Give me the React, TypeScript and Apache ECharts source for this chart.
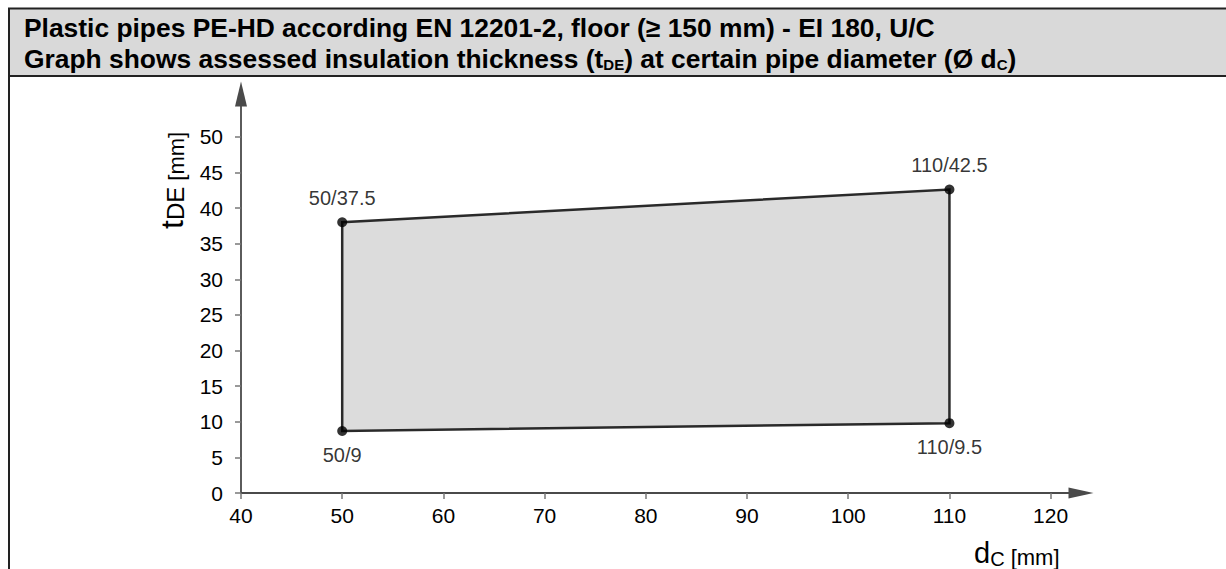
import React, { useEffect, useRef } from "react";
import * as echarts from "echarts";

// ---- data ----
const titleLine1 = "Plastic pipes PE-HD according EN 12201-2, floor (≥ 150 mm) - EI 180, U/C";
const titleLine2Parts = ["Graph shows assessed insulation thickness (t", "DE", ") at certain pipe diameter (Ø d", "C", ")"];
const xTicks = [40, 50, 60, 70, 80, 90, 100, 110, 120];
const yTicks = [0, 5, 10, 15, 20, 25, 30, 35, 40, 45, 50];
const xRange = [40, 123];
const yRange = [0, 56];
// polygon vertices (pipe diameter, insulation thickness) as drawn
const pointX = [50, 50, 110, 110];
const pointY = [8.7, 38, 42.6, 9.8];
const pointLabels = ["50/9", "50/37.5", "110/42.5", "110/9.5"];
const lowerEdge = [true, false, false, true];

const FONT = "'Liberation Sans', Arial, Helvetica, sans-serif";

export default function App() {
  const ref = useRef<HTMLDivElement>(null);
  useEffect(() => {
    if (!ref.current) return;
    const chart = echarts.init(ref.current, undefined, { renderer: "svg" });
    const verts = pointX.map((x, i) => [x, pointY[i]]);
    const option: any = {
      animation: false,
      backgroundColor: "#ffffff",
      grid: { left: 241, top: 94, width: 840, height: 399, containLabel: false },
      xAxis: {
        type: "value",
        min: xRange[0],
        max: xRange[1],
        axisLine: {
          show: true,
          symbol: ["none", "triangle"],
          symbolSize: [11, 25],
          lineStyle: { color: "#4a4a4a", width: 1.8 },
        },
        axisTick: { show: true, length: 6, customValues: xTicks, lineStyle: { color: "#777", width: 1.5 } },
        axisLabel: {
          customValues: xTicks,
          margin: 12,
          fontSize: 21,
          color: "#000",
          fontFamily: FONT,
        },
        splitLine: { show: false },
      },
      yAxis: {
        type: "value",
        min: yRange[0],
        max: yRange[1],
        axisLine: {
          show: true,
          symbol: ["none", "triangle"],
          symbolSize: [12, 25],
          lineStyle: { color: "#4a4a4a", width: 1.8 },
        },
        axisTick: { show: true, length: 6, customValues: yTicks, lineStyle: { color: "#777", width: 1.5 } },
        axisLabel: {
          customValues: yTicks,
          margin: 18,
          fontSize: 21,
          color: "#000",
          fontFamily: FONT,
        },
        splitLine: { show: false },
      },
      series: [
        {
          type: "custom",
          clip: false,
          z: 2,
          data: verts,
          renderItem: (params: any, api: any) => {
            if (params.dataIndex !== 0) return null;
            const pts = verts.map((v) => api.coord(v));
            return {
              type: "polygon",
              shape: { points: pts },
              style: { fill: "#dcdcdc", stroke: "#2a2a2a", lineWidth: 2.5 },
            };
          },
        },
        {
          type: "scatter",
          z: 3,
          symbol: "circle",
          symbolSize: 10,
          itemStyle: { color: "#000" },
          data: verts.map((v, i) => ({
            value: v,
            label: {
              show: true,
              formatter: pointLabels[i],
              position: lowerEdge[i] ? "bottom" : "top",
              distance: lowerEdge[i] ? 9 : 9,
              fontSize: 20,
              color: "#000",
              fontFamily: FONT,
            },
          })),
        },
      ],
      graphic: [
        {
          type: "rect",
          shape: { x: 9, y: 9, width: 1217, height: 67 },
          style: { fill: "#d9d9d9" },
          z: 0,
        },
        { type: "line", shape: { x1: 8, y1: 8.5, x2: 1226, y2: 8.5 }, style: { stroke: "#222", lineWidth: 2 } },
        { type: "line", shape: { x1: 8, y1: 76, x2: 1226, y2: 76 }, style: { stroke: "#222", lineWidth: 2 } },
        { type: "line", shape: { x1: 9, y1: 8, x2: 9, y2: 569 }, style: { stroke: "#222", lineWidth: 2 } },
        {
          type: "text",
          x: 24,
          y: 28,
          style: {
            text: titleLine1,
            fontSize: 26.4,
            fontWeight: "bold",
            fontFamily: FONT,
            fill: "#000",
            verticalAlign: "middle",
            align: "left",
          },
        },
        {
          type: "text",
          x: 24,
          y: 57,
          style: {
            text:
              "{b|" + titleLine2Parts[0] + "}{s|" + titleLine2Parts[1] + "}{b|" + titleLine2Parts[2] + "}{s|" +
              titleLine2Parts[3] + "}{b|" + titleLine2Parts[4] + "}",
            fontFamily: FONT,
            verticalAlign: "middle",
            align: "left",
            rich: {
              b: { fontSize: 26.4, fontWeight: "bold", fontFamily: FONT, fill: "#000", verticalAlign: "bottom", lineHeight: 30 },
              s: { fontSize: 15, fontWeight: "bold", fontFamily: FONT, fill: "#000", verticalAlign: "bottom", lineHeight: 30 },
            },
          },
        },
        {
          type: "text",
          x: 188,
          y: 229,
          rotation: Math.PI / 2,
          style: {
            text: "{t|t}{s|DE}{u| [mm]}",
            fontFamily: FONT,
            verticalAlign: "bottom",
            align: "left",
            rich: {
              t: { fontSize: 32, fontFamily: FONT, fill: "#000", verticalAlign: "bottom", lineHeight: 34 },
              s: { fontSize: 24, fontFamily: FONT, fill: "#000", verticalAlign: "bottom", lineHeight: 34, padding: [0, 0, 1, 0] },
              u: { fontSize: 22, fontFamily: FONT, fill: "#000", verticalAlign: "bottom", lineHeight: 34, padding: [0, 0, 1, 0] },
            },
          },
        },
        {
          type: "text",
          x: 974,
          y: 569,
          style: {
            text: "{d|d}{s|C}{u| [mm]}",
            fontFamily: FONT,
            verticalAlign: "bottom",
            align: "left",
            rich: {
              d: { fontSize: 29, fontFamily: FONT, fill: "#000", verticalAlign: "bottom", lineHeight: 29, padding: [0, 0, 2, 0] },
              s: { fontSize: 20, fontFamily: FONT, fill: "#000", verticalAlign: "bottom", lineHeight: 20 },
              u: { fontSize: 22, fontFamily: FONT, fill: "#000", verticalAlign: "bottom", lineHeight: 24, padding: [0, 0, 1, 0] },
            },
          },
        },
      ],
    };
    chart.setOption(option);
    return () => chart.dispose();
  }, []);
  return (
    <div
      ref={ref}
      style={{ position: "absolute", left: 0, top: 0, width: 1226, height: 569, background: "#fff" }}
    />
  );
}
